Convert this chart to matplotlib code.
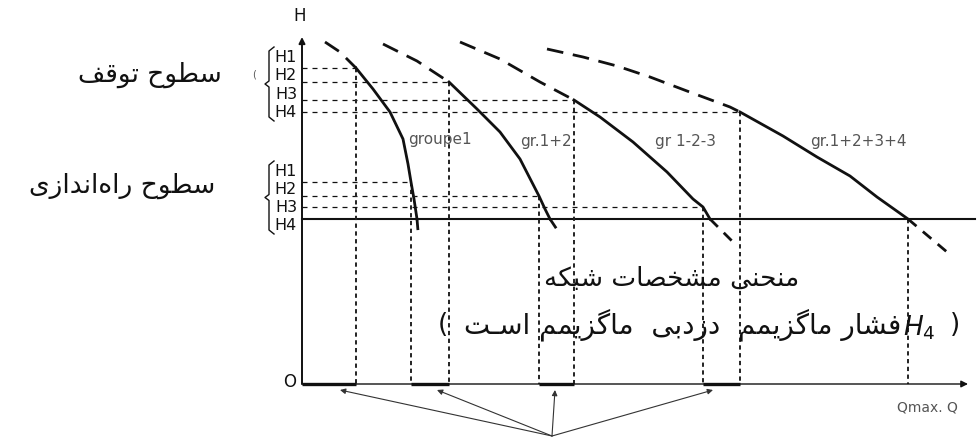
import matplotlib
matplotlib.use("Agg")
import matplotlib.pyplot as plt

# ---------------------------------------------------------------------------
# Pump-group characteristic curves (Q, H) in drawing units
# ---------------------------------------------------------------------------
grp1_q = [2.3, 3.8, 5.0, 5.4, 7.1, 8.8, 10.1, 10.6, 10.9, 11.2, 11.5, 11.6]
grp1_h = [34.2, 33.2, 32.0, 31.6, 29.5, 27.2, 24.5, 22.0, 20.2, 18.5, 16.5, 15.3]

grp2_q = [8.1, 11.5, 14.7, 17.5, 19.8, 21.8, 23.7, 24.3, 24.8, 25.8]
grp2_h = [34.0, 32.3, 30.2, 27.5, 25.2, 22.5, 18.8, 17.5, 16.5, 15.0]

grp3_q = [15.8, 19.8, 23.8, 27.2, 29.8, 33.1, 36.5, 39.1, 40.1, 40.8, 43.1]
grp3_h = [34.2, 32.5, 30.2, 28.4, 26.7, 24.2, 21.2, 18.5, 17.7, 16.5, 14.2]

grp4_q = [24.5, 28.1, 31.5, 34.8, 38.5, 42.8, 43.8, 48.1, 51.5, 54.8, 57.5, 60.6, 64.5]
grp4_h = [33.5, 32.7, 31.8, 30.7, 29.3, 27.7, 27.2, 24.8, 22.7, 20.8, 18.7, 16.5, 13.2]

group_labels = ["groupe1", "gr.1+2", "gr 1-2-3", "gr.1+2+3+4"]

# stop levels (upper) and start levels (lower)
stop_h = [31.6, 30.2, 28.4, 27.2]
start_h = [20.2, 18.8, 17.7, 16.5]
level_names = ["H1", "H2", "H3", "H4"]

# flow at which each group stops / starts
stop_q = [5.4, 14.7, 27.2, 43.8]
start_q = [10.9, 23.7, 40.1, 60.6]

# end of the network line (constant pressure H4)
network_q_end = 67.3

# points on the Q axis the arrows point at, and their common origin
arrow_q = [3.8, 13.5, 25.3, 41.1]
arrow_from = (25.0, -5.2)

# ---------------------------------------------------------------------------
# simple Persian shaping (presentation forms, visual order)
# ---------------------------------------------------------------------------
_FORMS = {
    'ا': ('\uFE8D', '\uFE8E', None, None),
    'ب': ('\uFE8F', '\uFE90', '\uFE91', '\uFE92'),
    'ت': ('\uFE95', '\uFE96', '\uFE97', '\uFE98'),
    'ح': ('\uFEA1', '\uFEA2', '\uFEA3', '\uFEA4'),
    'خ': ('\uFEA5', '\uFEA6', '\uFEA7', '\uFEA8'),
    'د': ('\uFEA9', '\uFEAA', None, None),
    'ر': ('\uFEAD', '\uFEAE', None, None),
    'ز': ('\uFEAF', '\uFEB0', None, None),
    'س': ('\uFEB1', '\uFEB2', '\uFEB3', '\uFEB4'),
    'ش': ('\uFEB5', '\uFEB6', '\uFEB7', '\uFEB8'),
    'ص': ('\uFEB9', '\uFEBA', '\uFEBB', '\uFEBC'),
    'ط': ('\uFEC1', '\uFEC2', '\uFEC3', '\uFEC4'),
    'ف': ('\uFED1', '\uFED2', '\uFED3', '\uFED4'),
    'ق': ('\uFED5', '\uFED6', '\uFED7', '\uFED8'),
    'م': ('\uFEE1', '\uFEE2', '\uFEE3', '\uFEE4'),
    'ن': ('\uFEE5', '\uFEE6', '\uFEE7', '\uFEE8'),
    'ه': ('\uFEE9', '\uFEEA', '\uFEEB', '\uFEEC'),
    'و': ('\uFEED', '\uFEEE', None, None),
    'ک': ('\uFB8E', '\uFB8F', '\uFB90', '\uFB91'),
    'گ': ('\uFB92', '\uFB93', '\uFB94', '\uFB95'),
    'ی': ('\uFBFC', '\uFBFD', '\uFBFE', '\uFBFF'),
    '\u0640': ('\u0640', '\u0640', '\u0640', '\u0640'),
}


def fa(text):
    out = []
    n = len(text)
    for i, ch in enumerate(text):
        f = _FORMS.get(ch)
        if f is None:
            if ch != '\u200c':
                out.append(ch)
            continue
        prev = text[i - 1] if i > 0 else ''
        nxt = text[i + 1] if i + 1 < n else ''
        join_prev = prev in _FORMS and _FORMS[prev][2] is not None
        join_next = f[2] is not None and nxt in _FORMS
        if join_prev and join_next:
            g = f[3]
        elif join_prev:
            g = f[1]
        elif join_next:
            g = f[2]
        else:
            g = f[0]
        out.append(g)
    return ''.join(reversed(out))


# ---------------------------------------------------------------------------
fig = plt.figure(figsize=(9.77, 4.39), dpi=100)
ax = fig.add_axes([0, 0, 1, 1])
ax.set_xlim(-30.2, 67.5)
ax.set_ylim(-5.4, 38.5)
ax.axis("off")

INK = "#111111"
GREY = "#555555"
FA = "DejaVu Sans"

# axes with arrows
ax.annotate("", xy=(0, 34.7), xytext=(0, 0),
            arrowprops=dict(arrowstyle="-|>", lw=1.4, color=INK,
                            mutation_scale=9, shrinkA=0, shrinkB=0))
ax.annotate("", xy=(66.6, 0), xytext=(0, 0),
            arrowprops=dict(arrowstyle="-|>", lw=1.0, color=INK,
                            mutation_scale=10, shrinkA=0, shrinkB=0))
ax.text(-0.2, 36.9, "H", fontsize=12, ha="center", va="center", color=INK)
ax.text(-1.2, 0.3, "O", fontsize=12, ha="center", va="center", color=INK)
ax.text(62.5, -2.3, "Qmax. Q", fontsize=10, ha="center", va="center", color=GREY)

# level lines
for i in range(4):
    ax.plot([0, stop_q[i]], [stop_h[i], stop_h[i]], color=INK, lw=0.9,
            dashes=(4, 4))
for i in range(3):
    ax.plot([0, start_q[i]], [start_h[i], start_h[i]], color=INK, lw=0.9,
            dashes=(4, 4))
ax.plot([0, network_q_end], [start_h[3], start_h[3]], color=INK, lw=1.5)

# vertical projections to the Q axis
for q, h in list(zip(stop_q, stop_h)) + list(zip(start_q, start_h)):
    ax.plot([q, q], [h, 0], color="#222222", lw=1.4, dashes=(2.2, 1.8))

# operating ranges on the Q axis
ranges = [(0, stop_q[0])] + [(start_q[i], stop_q[i + 1]) for i in range(3)]
for a, b in ranges:
    ax.plot([a, b], [0, 0], color=INK, lw=2.4, solid_capstyle="butt")

# characteristic curves: dashed above the stop level, solid in the
# working zone, dashed below the network line
curves = [(grp1_q, grp1_h), (grp2_q, grp2_h), (grp3_q, grp3_h), (grp4_q, grp4_h)]
for i, (q, h) in enumerate(curves):
    up = [(a, b) for a, b in zip(q, h) if b >= stop_h[i]]
    mid = [(a, b) for a, b in zip(q, h) if stop_h[i] >= b >= start_h[3]]
    low = [(a, b) for a, b in zip(q, h) if b <= start_h[3]]
    ax.plot(*zip(*up), color=INK, lw=2.0, dashes=(6, 3.5))
    ax.plot(*zip(*mid), color=INK, lw=2.0)
    if len(low) > 1:
        ax.plot(*zip(*low), color=INK, lw=2.0, dashes=(4, 3))

# group labels
label_pos = [(13.8, 24.5), (24.4, 24.3), (38.4, 24.3), (55.6, 24.3)]
for (x, y), lab in zip(label_pos, group_labels):
    ax.text(x, y, lab, fontsize=11, color=GREY, ha="center", va="center")

# level labels and braces
up_lab_y = [32.7, 30.9, 29.0, 27.2]
lo_lab_y = [21.3, 19.5, 17.7, 15.9]
for names_y in (up_lab_y, lo_lab_y):
    for y, nm in zip(names_y, level_names):
        ax.text(-1.6, y, nm, fontsize=11.5, ha="center", va="center",
                color=INK)
    top, bot = names_y[0] + 1.0, names_y[-1] - 0.9
    mid_y = (top + bot) / 2
    bx = -3.3
    ax.plot([bx + 0.5, bx, bx, bx - 0.4, bx, bx, bx + 0.5],
            [top, top - 0.4, mid_y + 0.3, mid_y, mid_y - 0.3, bot + 0.4, bot],
            color=INK, lw=1.0)

ax.text(-4.8, 31.0, "(", fontsize=7, ha="center", va="center", color=GREY)

# Persian annotations
ax.text(-15.2, 31.0, fa("سطوح توقف"), fontsize=19, ha="center",
        va="center", color=INK, family=FA)
ax.text(-18.0, 19.9, fa("سطوح راه\u200cاندازی"), fontsize=19,
        ha="center", va="center", color=INK, family=FA)
ax.text(37.0, 10.6, fa("منحنی مشخصات شبکه"), fontsize=19, ha="center",
        va="center", color=INK, family=FA)
ax.text(14.1, 6.0, "(", fontsize=19, ha="center", va="center", color=INK)
ax.text(59.9, 6.0, fa("فشار ماگزیمم  دزدبی  ماگزیمم اسـت"), fontsize=20,
        ha="right", va="center", color=INK, family=FA)
ax.text(60.1, 5.7, r"$H_4$", fontsize=19, ha="left", va="center", color=INK)
ax.text(65.3, 6.0, ")", fontsize=19, ha="center", va="center", color=INK)

# arrows pointing to the operating ranges
for q in arrow_q:
    ax.annotate("", xy=(q, -0.6), xytext=arrow_from,
                arrowprops=dict(arrowstyle="-|>", lw=0.8, color="#333333",
                                mutation_scale=8, shrinkA=0, shrinkB=0))

fig.savefig("out.png", dpi=100)
